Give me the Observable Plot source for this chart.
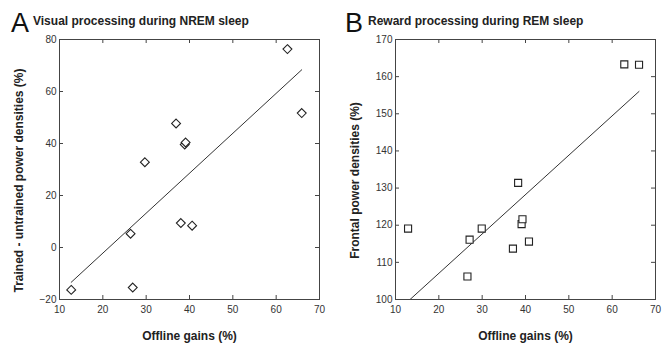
<!DOCTYPE html>
<html><head><meta charset="utf-8">
<script src="https://cdn.jsdelivr.net/npm/d3@7"></script>
<script src="https://cdn.jsdelivr.net/npm/@observablehq/plot@0.6"></script>
<style>
body{margin:0;background:#fff;font-family:"Liberation Sans",Arial,sans-serif;}
#wrap{position:relative;width:672px;height:344px;overflow:hidden;}
.panel{position:absolute;top:0;width:336px;height:344px;}
.panel svg{position:absolute;left:0;top:0;}
.letter{position:absolute;font-size:27px;line-height:1;color:#111;z-index:2;}
.title{position:absolute;font-size:12px;font-weight:bold;line-height:1;color:#222;white-space:nowrap;z-index:2;}
</style></head><body>
<div id="wrap"></div>
<script>
// Panel A: Visual processing during NREM sleep
const gainsA = [12.7, 26.4, 26.9, 29.7, 36.9, 38.9, 39.1, 38.0, 40.6, 62.6, 65.9];
const nremDiff = [-16.3, 5.3, -15.4, 32.8, 47.7, 39.6, 40.4, 9.4, 8.4, 76.3, 51.7];
// Panel B: Reward processing during REM sleep
const gainsB = [12.9, 26.6, 27.1, 29.9, 37.1, 38.3, 39.1, 39.3, 40.8, 62.8, 66.2];
const remFrontal = [119.1, 106.2, 116.1, 119.1, 113.7, 131.4, 120.3, 121.6, 115.6, 163.3, 163.2];

const xTicks = [10, 20, 30, 40, 50, 60, 70];
const yTicksA = [-20, 0, 20, 40, 60, 80];
const yTicksB = [100, 110, 120, 130, 140, 150, 160, 170];

const letters = ["A", "B"];
const titles = ["Visual processing during NREM sleep", "Reward processing during REM sleep"];
const xLabel = "Offline gains (%)";
const yLabels = ["Trained - untrained power densities (%)", "Frontal power densities (%)"];

const W = 336, H = 344, ML = 59, MR = 17, MT = 39, MB = 45, TICK = 4;
const FW = W - ML - MR, FH = H - MT - MB;

function panel(xs, ys, yTicks, yLabel, symbol, r) {
  const data = xs.map((x, i) => ({x, y: ys[i]}));
  const inner = (t) => t.slice(1, -1);
  const tickStyle = {stroke: "#444", strokeWidth: 1};
  return Plot.plot({
    width: W, height: H,
    marginLeft: ML, marginRight: MR, marginTop: MT, marginBottom: MB,
    style: {fontFamily: '"Liberation Sans", Arial, sans-serif', fontSize: "10px", background: "transparent", color: "#333"},
    x: {domain: [xTicks[0], xTicks[xTicks.length - 1]]},
    y: {domain: [yTicks[0], yTicks[yTicks.length - 1]]},
    marks: [
      // inward tick marks on all four sides
      Plot.tickX(inner(xTicks), {x: (d) => d, insetBottom: FH - TICK, ...tickStyle}),
      Plot.tickX(inner(xTicks), {x: (d) => d, insetTop: FH - TICK, ...tickStyle}),
      Plot.tickY(inner(yTicks), {y: (d) => d, insetRight: FW - TICK, ...tickStyle}),
      Plot.tickY(inner(yTicks), {y: (d) => d, insetLeft: FW - TICK, ...tickStyle}),
      Plot.linearRegressionY(data, {x: "x", y: "y", ci: 0, stroke: "#333", strokeWidth: 1, clip: true}),
      Plot.dot(data, {x: "x", y: "y", symbol, r, stroke: "#222", strokeWidth: 1.1, fill: "white"}),
      Plot.axisX({anchor: "bottom", ticks: xTicks, tickSize: 0, tickPadding: 6, label: null, fill: "#333"}),
      Plot.axisY({anchor: "left", ticks: yTicks, tickSize: 0, tickPadding: 3, label: null, fill: "#333"}),
      Plot.frame({stroke: "#444", strokeWidth: 1}),
      Plot.text([xLabel], {frameAnchor: "bottom", dy: 37, lineAnchor: "middle", textAnchor: "middle", fontWeight: "bold", fontSize: 12, fill: "#222"}),
      Plot.text([yLabel], {frameAnchor: "left", rotate: -90, dx: -40, dy: 11, lineAnchor: "middle", textAnchor: "middle", fontWeight: "bold", fontSize: 12, fill: "#222"})
    ]
  });
}

const wrap = document.getElementById("wrap");
const configs = [
  {xs: gainsA, ys: nremDiff, yTicks: yTicksA, symbol: "diamond2", r: 4},
  {xs: gainsB, ys: remFrontal, yTicks: yTicksB, symbol: "square2", r: 4.5}
];
configs.forEach((c, i) => {
  const p = document.createElement("div");
  p.className = "panel";
  p.style.left = (i * W) + "px";
  p.appendChild(panel(c.xs, c.ys, c.yTicks, yLabels[i], c.symbol, c.r));
  const L = document.createElement("div");
  L.className = "letter";
  L.textContent = letters[i];
  L.style.left = (i === 0 ? 11 : 9) + "px";
  L.style.top = "10px";
  p.appendChild(L);
  const T = document.createElement("div");
  T.className = "title";
  T.textContent = titles[i];
  T.style.left = (i === 0 ? 33 : 32) + "px";
  T.style.top = "15px";
  p.appendChild(T);
  wrap.appendChild(p);
});
</script>
</body></html>
